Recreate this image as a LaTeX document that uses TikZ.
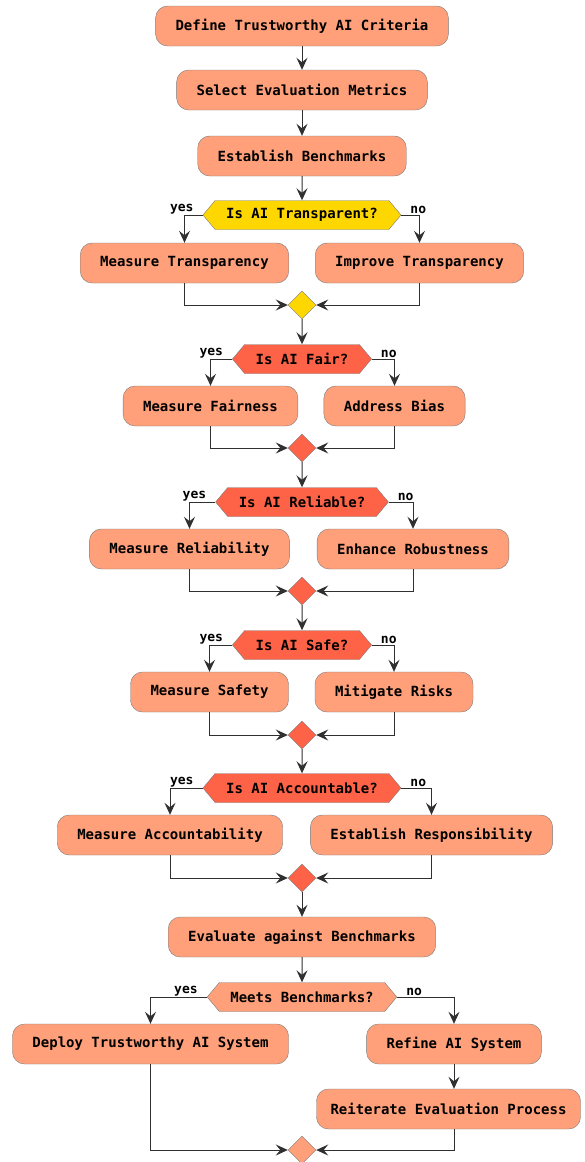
\documentclass[tikz,border=0pt]{standalone}
\usepackage{fontspec}
\setmonofont{DejaVu Sans Mono}
\usepackage{xcolor}
\usetikzlibrary{shapes.geometric}
\usetikzlibrary{shapes.symbols}
\usetikzlibrary{arrows.meta}
\definecolor{salmon}{HTML}{FFA07A}
\definecolor{goldy}{HTML}{FFD700}
\definecolor{tomato}{HTML}{FF6347}
\definecolor{edgegray}{HTML}{7A7A7A}
\definecolor{linegray}{HTML}{303030}
\tikzset{act/.style={draw=edgegray, fill=salmon, rounded corners=12pt,
   minimum height=40pt, inner xsep=20pt,
   font=\ttfamily\bfseries\fontsize{14}{16}\selectfont},
 ifbox/.style={signal, signal to=east and west, signal pointer angle=100,
   draw=edgegray, minimum height=29pt, inner xsep=11pt, inner ysep=2pt,
   font=\ttfamily\bfseries\fontsize{14}{16}\selectfont},
 merge/.style={diamond, draw=edgegray, minimum size=28pt, inner sep=0pt},
 lbl/.style={inner sep=1pt, font=\ttfamily\bfseries\fontsize{13}{15}\selectfont},
 flow/.style={draw=linegray, line width=1pt,
   -{Stealth[length=12pt, width=11pt, inset=4.5pt]}},
 }

\begin{document}
\begin{tikzpicture}[x=1pt, y=-1pt]
    \useasboundingbox (0,0) rectangle (584,1162);
    \node[act] (crit) at (302,26) {Define Trustworthy AI Criteria};
    \node[act] (metr) at (302,90) {Select Evaluation Metrics};
    \node[act] (bench) at (302,156) {Establish Benchmarks};
    \node[ifbox, fill=goldy] (transp) at (302,215) {Is AI Transparent?};
    \node[act] (meastr) at (184.5,263) {Measure Transparency};
    \node[act] (imptr) at (419.5,263) {Improve Transparency};
    \node[merge, fill=goldy] (mtr) at (302,305) {};
    \node[ifbox, fill=tomato] (fair) at (302,359) {Is AI Fair?};
    \node[act] (measfa) at (210.5,406) {Measure Fairness};
    \node[act] (bias) at (394.5,406) {Address Bias};
    \node[merge, fill=tomato] (mfa) at (302,448) {};
    \node[ifbox, fill=tomato] (rel) at (302,502) {Is AI Reliable?};
    \node[act] (measre) at (189.5,549) {Measure Reliability};
    \node[act] (robust) at (413,549) {Enhance Robustness};
    \node[merge, fill=tomato] (mre) at (302,591) {};
    \node[ifbox, fill=tomato] (safe) at (302,645) {Is AI Safe?};
    \node[act] (meassa) at (209.5,692) {Measure Safety};
    \node[act] (risks) at (394,692) {Mitigate Risks};
    \node[merge, fill=tomato] (msa) at (302,735) {};
    \node[ifbox, fill=tomato] (acc) at (302,788) {Is AI Accountable?};
    \node[act] (measac) at (170,835) {Measure Accountability};
    \node[act] (resp) at (431.5,835) {Establish Responsibility};
    \node[merge, fill=tomato] (mac) at (302,878) {};
    \node[act] (evalb) at (302,937) {Evaluate against Benchmarks};
    \node[ifbox, fill=salmon] (meets) at (302,997) {Meets Benchmarks?};
    \node[act] (deploy) at (150.5,1044) {Deploy Trustworthy AI System};
    \node[act] (refine) at (454,1044) {Refine AI System};
    \node[act, inner xsep=14pt] (reit) at (448.5,1109) {Reiterate Evaluation Process};
    \node[merge, fill=salmon] (mend) at (302,1150) {};

    \draw[flow] (crit) -- (metr);
    \draw[flow] (metr) -- (bench);
    \draw[flow] (bench) -- (transp);
    \draw[flow] (mtr) -- (fair);
    \draw[flow] (mfa) -- (rel);
    \draw[flow] (mre) -- (safe);
    \draw[flow] (msa) -- (acc);
    \draw[flow] (mac) -- (evalb);
    \draw[flow] (evalb) -- (meets);

    \foreach \dec/\yes/\no/\mrg in {transp/meastr/imptr/mtr, fair/measfa/bias/mfa,
        rel/measre/robust/mre, safe/meassa/risks/msa, acc/measac/resp/mac}{
      \draw[flow] (\dec.west) -| (\yes.north);
      \draw[flow] (\dec.east) -| (\no.north);
      \draw[flow] (\yes.south) |- (\mrg.west);
      \draw[flow] (\no.south) |- (\mrg.east);
      \node[lbl, anchor=south east, xshift=-8pt] (\dec-yes) at (\dec.west) {yes};
      \node[lbl, anchor=south west, xshift=8pt] (\dec-no) at (\dec.east) {no};
    }

    \draw[flow] (meets.west) -| (deploy.north);
    \draw[flow] (meets.east) -| (refine.north);
    \node[lbl, anchor=south east, xshift=-8pt] (meets-yes) at (meets.west) {yes};
    \node[lbl, anchor=south west, xshift=8pt] (meets-no) at (meets.east) {no};
    \draw[flow] (refine.south) -- (refine.south |- reit.north);
    \draw[flow] (deploy.south) |- (mend.west);
    \draw[flow] (refine.south |- reit.south) |- (mend.east);
\end{tikzpicture}
\end{document}
